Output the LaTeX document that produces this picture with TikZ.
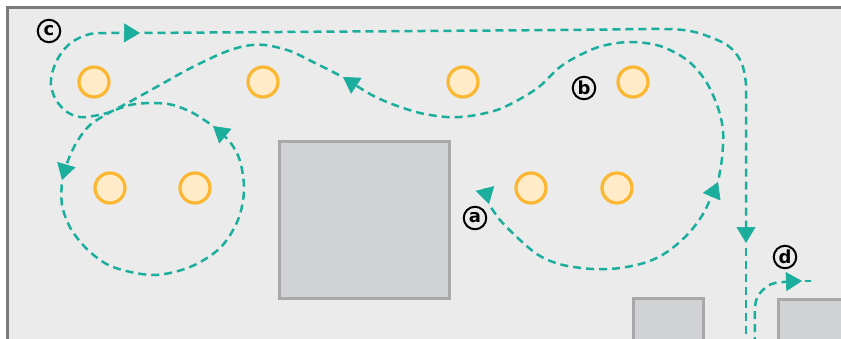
\documentclass[tikz,border=0pt]{standalone}
\usepackage{fontspec}
\newfontfamily\labelfont{DejaVu Sans}
\usetikzlibrary{arrows.meta}

\definecolor{routecol}{RGB}{28,174,156}
\definecolor{floorcol}{RGB}{235,235,235}
\definecolor{framecol}{RGB}{122,122,122}
\definecolor{blockfill}{RGB}{209,210,212}
\definecolor{blockline}{RGB}{168,168,170}
\definecolor{potfill}{RGB}{255,235,200}
\definecolor{potline}{RGB}{251,183,49}

\tikzset{
  route/.style={draw=routecol, line width=2.5pt, dash pattern=on 8pt off 5pt,
    -{Triangle[length=16pt,width=19pt,fill=routecol,line width=0.6pt]}},
  cont/.style={dash phase=8.5pt},
  plain/.style={draw=routecol, line width=2.5pt, dash pattern=on 8pt off 5pt},
  block/.style={draw=blockline, fill=blockfill, line width=3pt},
  pot/.style={circle, draw=potline, fill=potfill, line width=3.2pt,
    minimum size=30pt, inner sep=0pt},
  tag/.style={circle, draw=black, line width=2pt, minimum size=22.5pt,
    inner sep=0pt, font=\labelfont\bfseries\fontsize{18}{18}\selectfont},
  smoothpath/.style={smooth, tension=0.55}
}

\begin{document}
\begin{tikzpicture}[x=1pt, y=-1pt]
\useasboundingbox (0,0) rectangle (841,338);
\begin{scope}
\clip (0,0) rectangle (841,338);

% floor area with its border
\draw[draw=framecol, fill=floorcol, line width=3pt] (7.5,7.5) rectangle (900,400);

% obstacles
\draw[block] (279.5,141) rectangle (449.5,298.5);
\draw[block] (633,298.7) rectangle (703.5,360);
\draw[block] (778,299) rectangle (900,360);

% round pots
\foreach \n/\x/\y in {p1/94/82, p2/263/82, p3/463/82, p4/633/82,
                      p5/110/188, p6/195/188, p7/531/188, p8/617/188}
  \node[pot] (\n) at (\x,\y) {};

% waypoints where the heading arrows sit
\coordinate (s0) at (484.9,188.3);
\coordinate (t0) at (489,204);
\coordinate (t6) at (746,243);
\coordinate (t7) at (802,281);
\coordinate (d1) at (811,281);

% route a -> b -> c
\draw[route] (s0) -- (t0);
\draw[route, cont] plot[smoothpath] coordinates {(489,204) (500,220) (520,240) (540,256)
  (563,265) (593,269) (620,268) (647,262) (667,252) (687,235) (703,214) (718,182)};
\draw[route, cont] plot[smoothpath] coordinates {(718,182) (722,158) (723,130) (717,105)
  (705,80) (687,60) (660,46) (630,42) (602,46) (580,55) (560,67) (540,86) (520,99)
  (497,110) (470,116) (447,117) (420,113) (392,104) (370,94) (343,77)};
\draw[route, cont] plot[smoothpath] coordinates {(343,77) (313,62) (290,51) (265,45)
  (245,46) (225,52) (205,61) (185,71) (160,85) (133,100) (107,114) (90,125) (78,140)
  (69,158) (62,180)};
\draw[route, cont] plot[smoothpath] coordinates {(62,180) (62,205) (71,229) (89,251)
  (113,267) (153,275) (190,267) (220,248) (238,220) (244,190) (240,161) (230,142) (213,126)};
\draw[route, cont] plot[smoothpath] coordinates {(213,126) (193,113) (173,105) (153,103)
  (130,105) (107,113) (93,116) (80,117) (67,112) (56,100) (51,85) (53,70) (60,55)
  (72,42) (90,34) (110,33) (140,33)};
\draw[route, cont] plot[smoothpath] coordinates {(140,33) (280,32) (560,30) (660,29)
  (690,31) (710,37) (727,45) (737,55) (743,67) (746,85) (746,110) (746,243)};
\draw[plain, cont] (t6) -- (746,345);

% route d
\draw[route] plot[smoothpath] coordinates {(755,345) (755,310) (757,298) (764,289)
  (775,283) (802,281)};
\draw[plain, dash phase=10pt] (t7) -- (d1);

% segment tags
\node[tag] (tc) at (49,31) {c};
\node[tag] (tb) at (584,88) {b};
\node[tag] (ta) at (475,218) {a};
\node[tag] (td) at (785,257) {d};
\end{scope}
\end{tikzpicture}
\end{document}
